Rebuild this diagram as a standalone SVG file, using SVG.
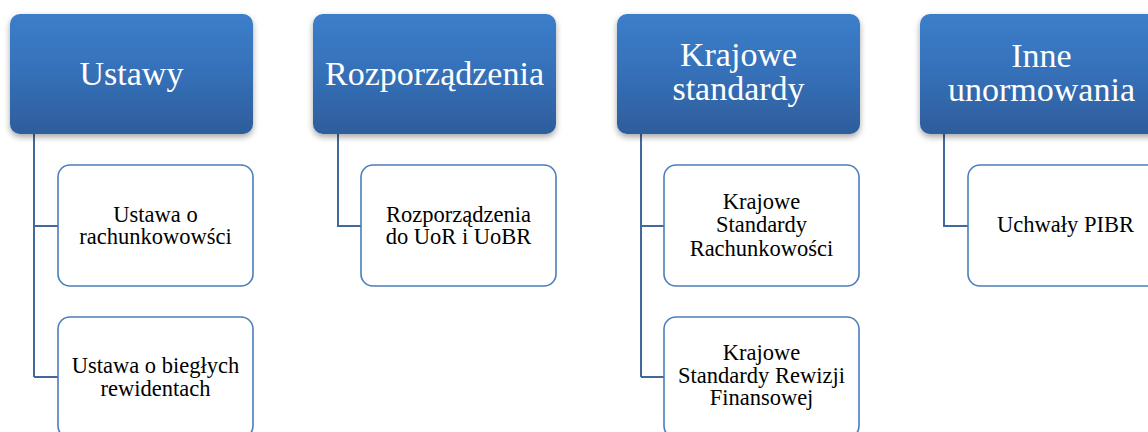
<svg xmlns="http://www.w3.org/2000/svg" width="1148" height="432" viewBox="0 0 1148 432">
<style>
.top{fill:url(#g);filter:url(#sh)}
.child{fill:#fff;stroke:#4a7ebb;stroke-width:1.6}
.conn{fill:none;stroke:#41699c;stroke-width:2}
.tt{font-family:"Liberation Serif","Times New Roman",serif;font-size:34px;fill:#fff;text-anchor:middle}
.ct{font-family:"Liberation Serif","Times New Roman",serif;font-size:22.5px;fill:#000;text-anchor:middle}
</style>
<defs>
<linearGradient id="g" x1="0" y1="0" x2="0" y2="1">
<stop offset="0" stop-color="#3c7ecb"/>
<stop offset="0.5" stop-color="#3570b8"/>
<stop offset="1" stop-color="#2e5d9b"/>
</linearGradient>
<filter id="sh" x="-10%" y="-10%" width="120%" height="130%">
<feDropShadow dx="0" dy="3" stdDeviation="3" flood-color="#000" flood-opacity="0.35"/>
</filter>
</defs>
<g id="connectors">
<path class="conn" d="M34 134V377M34 226H58M34 377H58"/>
<path class="conn" d="M338 134V226H361"/>
<path class="conn" d="M641 134V377M641 226H664M641 377H664"/>
<path class="conn" d="M944 134V226H968"/>
</g>
<g id="ustawy">
<rect class="top" x="10" y="14" width="243" height="120" rx="10"/>
<text class="tt" x="131.5" y="85">Ustawy</text>
</g>
<g id="rozporzadzenia">
<rect class="top" x="313" y="14" width="243" height="120" rx="10"/>
<text class="tt" x="434.5" y="85">Rozporządzenia</text>
</g>
<g id="krajowe-standardy">
<rect class="top" x="617" y="14" width="243" height="120" rx="10"/>
<text class="tt" x="738.5" y="66">Krajowe</text>
<text class="tt" x="738.5" y="100">standardy</text>
</g>
<g id="inne-unormowania">
<rect class="top" x="920" y="14" width="243" height="120" rx="10"/>
<text class="tt" x="1041.5" y="66.5">Inne</text>
<text class="tt" x="1041.5" y="100.5">unormowania</text>
</g>
<g id="ustawa-rachunkowosci">
<rect class="child" x="58" y="165" width="195" height="121" rx="12"/>
<text class="ct" x="155.5" y="221.7">Ustawa o</text>
<text class="ct" x="155.5" y="244.2">rachunkowowści</text>
</g>
<g id="ustawa-bieglych">
<rect class="child" x="58" y="317" width="195" height="121" rx="12"/>
<text class="ct" x="155.5" y="373">Ustawa o biegłych</text>
<text class="ct" x="155.5" y="395.5">rewidentach</text>
</g>
<g id="rozporzadzenia-uor">
<rect class="child" x="361" y="165" width="195" height="121" rx="12"/>
<text class="ct" x="458.5" y="221.7">Rozporządzenia</text>
<text class="ct" x="458.5" y="244.2">do UoR i UoBR</text>
</g>
<g id="ksr">
<rect class="child" x="664" y="165" width="195" height="121" rx="12"/>
<text class="ct" x="761.5" y="209.3">Krajowe</text>
<text class="ct" x="761.5" y="232.3">Standardy</text>
<text class="ct" x="761.5" y="255.5">Rachunkowości</text>
</g>
<g id="ksrf">
<rect class="child" x="664" y="317" width="195" height="121" rx="12"/>
<text class="ct" x="761.5" y="360">Krajowe</text>
<text class="ct" x="761.5" y="382.7">Standardy Rewizji</text>
<text class="ct" x="761.5" y="405.3">Finansowej</text>
</g>
<g id="uchwaly-pibr">
<rect class="child" x="968" y="165" width="195" height="121" rx="12"/>
<text class="ct" x="1065.5" y="232.3">Uchwały PIBR</text>
</g>
</svg>
